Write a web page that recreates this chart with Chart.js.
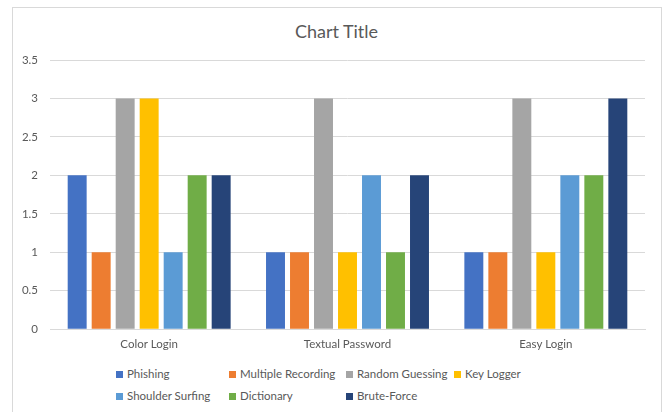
<!DOCTYPE html>
<html>
<head>
<meta charset="utf-8">
<script src="https://cdn.jsdelivr.net/npm/chart.js@4/dist/chart.umd.min.js"></script>
<style>
  html, body { margin: 0; padding: 0; background: #fff; }
  body { width: 664px; height: 412px; position: relative; overflow: hidden; font-family: Lato, "Open Sans", sans-serif; }
  .frame { position: absolute; left: 12px; top: 7px; width: 648px; height: 420px; border: 1px solid #d9d9d9; }
  .chart-box { position: absolute; left: 12px; top: 8px; width: 649px; height: 353px; }
  .title { position: absolute; left: 12px; width: 649px; top: 20px; text-align: center; font-size: 18px; line-height: 22px; color: #595959; }
  .legend { position: absolute; left: 0; top: 0; font-size: 11.5px; color: #595959; }
  .legend-item { position: absolute; white-space: nowrap; line-height: 14px; }
  .legend-item span.box { display: inline-block; width: 7px; height: 7px; margin-right: 4px; vertical-align: 0px; }
</style>
</head>
<body>
<div class="frame"></div>
<div class="title">Chart Title</div>
<div class="chart-box"><canvas id="chart"></canvas></div>
<div class="legend" id="legend"></div>
<script>
const categories = ["Color Login", "Textual Password", "Easy Login"];
const seriesNames = ["Phishing", "Multiple Recording", "Random Guessing", "Key Logger", "Shoulder Surfing", "Dictionary", "Brute-Force"];
const phishing = [2, 1, 1];
const multipleRecording = [1, 1, 1];
const randomGuessing = [3, 3, 3];
const keyLogger = [3, 1, 1];
const shoulderSurfing = [1, 2, 2];
const dictionary = [2, 1, 2];
const bruteForce = [2, 2, 3];
const yTickLabels = ["0", "0.5", "1", "1.5", "2", "2.5", "3", "3.5"];

const seriesValues = [phishing, multipleRecording, randomGuessing, keyLogger, shoulderSurfing, dictionary, bruteForce];
const colors = ["#4472C4", "#ED7D31", "#A5A5A5", "#FFC000", "#5B9BD5", "#70AD47", "#264478"];

const textColor = "#595959";
const gridColor = "#d9d9d9";

const datasets = seriesNames.map((name, i) => ({
  label: name,
  data: seriesValues[i],
  backgroundColor: colors[i],
  borderWidth: 0,
  categoryPercentage: 0.847,
  barPercentage: 0.79
}));

new Chart(document.getElementById("chart"), {
  type: "bar",
  data: { labels: categories, datasets: datasets },
  options: {
    responsive: true,
    maintainAspectRatio: false,
    animation: false,
    layout: { padding: { left: 4, right: 16, top: 52, bottom: 10 } },
    plugins: {
      legend: { display: false },
      tooltip: { enabled: false },
      title: { display: false }
    },
    scales: {
      x: {
        grid: { display: false },
        border: { display: true, color: gridColor },
        ticks: { color: textColor, font: { family: "Lato", size: 11.5 }, padding: 0 }
      },
      y: {
        min: 0,
        max: 3.5,
        afterFit: (scale) => { scale.width = 34; },
        grid: { color: gridColor, drawTicks: false },
        border: { display: false },
        ticks: {
          stepSize: 0.5,
          color: textColor,
          font: { family: "Lato", size: 11.5 },
          padding: 12,
          callback: (value, index) => yTickLabels[index]
        }
      }
    }
  }
});

// legend laid out in columns like the original
const legend = document.getElementById("legend");
const colLeft = [116, 229, 346, 454];
const rowTop = [367, 389];
seriesNames.forEach((name, i) => {
  const item = document.createElement("div");
  item.className = "legend-item";
  const row = i < 4 ? 0 : 1;
  const col = i < 4 ? i : i - 4;
  item.style.left = colLeft[col] + "px";
  item.style.top = rowTop[row] + "px";
  item.innerHTML = '<span class="box" style="background:' + colors[i] + '"></span>' + name;
  legend.appendChild(item);
});
</script>
</body>
</html>
